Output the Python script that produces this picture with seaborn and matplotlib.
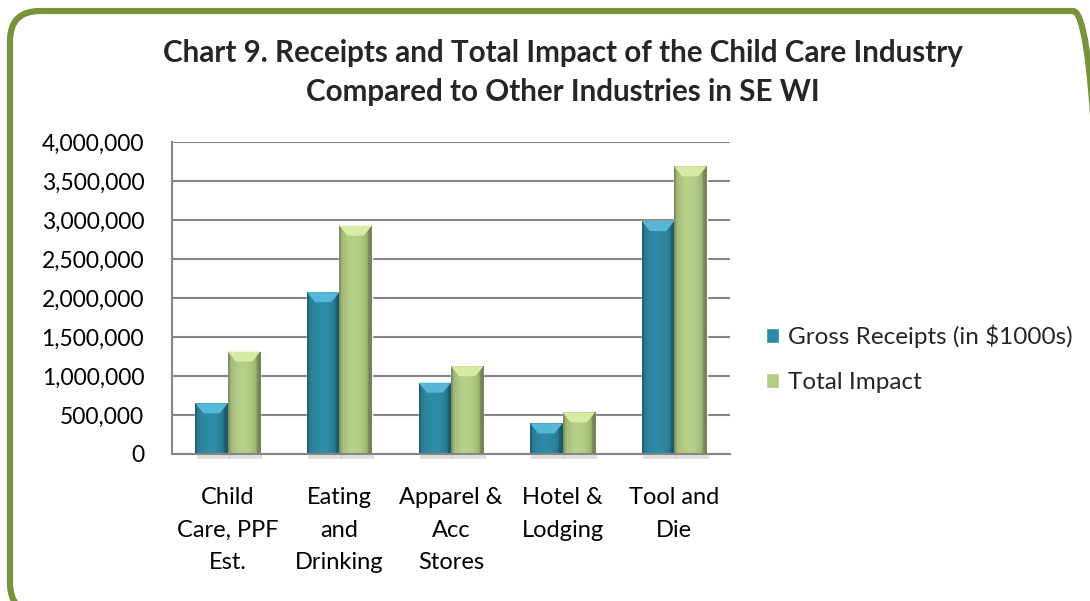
import numpy as np
import pandas as pd
import matplotlib
matplotlib.use("Agg")
import matplotlib.pyplot as plt
import seaborn as sns
from matplotlib.patches import FancyBboxPatch, Polygon
from matplotlib.colors import to_rgb

categories = ["Child\nCare, PPF\nEst.", "Eating\nand\nDrinking", "Apparel &\nAcc\nStores",
              "Hotel &\nLodging", "Tool and\nDie"]
gross_receipts = [650000, 2075000, 915000, 393000, 2986000]
total_impact = [1313000, 2927000, 1125000, 534000, 3688000]
series_names = ["Gross Receipts (in $1000s)", "Total Impact"]
y_ticks = [0, 500000, 1000000, 1500000, 2000000, 2500000, 3000000, 3500000, 4000000]

df = pd.DataFrame({
    "Category": categories * 2,
    "Series": [series_names[0]] * len(categories) + [series_names[1]] * len(categories),
    "Value": gross_receipts + total_impact,
})

sns.set_theme(style="white")
plt.rcParams['font.family'] = ['Lato', 'DejaVu Sans']

W, H = 1090, 601
fig = plt.figure(figsize=(W / 100, H / 100), dpi=100)
ax = fig.add_axes([172 / W, 1 - 454 / H, (730 - 172) / W, (454 - 142) / H])

colors = {series_names[0]: "#2E89A3", series_names[1]: "#B3CB85"}
cap_colors = {series_names[0]: "#55B8D6", series_names[1]: "#D8EBA6"}
sns.barplot(data=df, x="Category", y="Value", hue="Series", palette=colors,
            width=0.58, ax=ax, legend=True, saturation=1)

ax.set_ylim(0, 4000000)
ax.set_xlim(-0.5, len(categories) - 0.5)
ax.set_yticks(y_ticks)
ax.set_yticklabels([f"{v:,}" for v in y_ticks])
ax.set_xlabel("")
ax.set_ylabel("")
ax.yaxis.grid(True, color="#868686", linewidth=1.5)
ax.set_axisbelow(True)
for s in ["top", "right"]:
    ax.spines[s].set_visible(False)
for s in ["left", "bottom"]:
    ax.spines[s].set_color("#868686")
    ax.spines[s].set_linewidth(1.5)
ax.tick_params(axis="y", length=0, pad=20, labelsize=16.5, colors="black")
ax.tick_params(axis="x", length=0, pad=24, labelsize=17, colors="black")
for lab in ax.get_xticklabels():
    lab.set_linespacing(1.66)
    lab.set_verticalalignment("top")

# gradient shading on bars
def shade(base):
    r = np.array(to_rgb(base))
    xs = np.linspace(0, 1, 64)
    f = 0.80 + 0.22 * np.sin(np.pi * np.clip(xs * 1.1, 0, 1)) ** 0.6
    f = np.where(xs > 0.88, f * 0.82, f)
    f = np.where(xs < 0.05, f * 0.85, f)
    cols = np.clip(r[None, :] * f[:, None], 0, 1)
    return cols[None, :, :]

px_per_unit_y = 312 / 4000000
px_per_unit_x = 558 / 5
cap_h = 10 / px_per_unit_y
inset = 8 / px_per_unit_x
bar_patches = [p for p in ax.patches if p.get_height() > 0]
n = len(categories)
for i, p in enumerate(bar_patches):
    fc = p.get_facecolor()
    x0, y0 = p.get_x(), p.get_y()
    w, h = p.get_width(), p.get_height()
    # soft shadow under the bar
    ax.add_patch(Polygon([[x0 + 0.01, y0], [x0 + w + 0.02, y0],
                          [x0 + w + 0.02, y0 - 5 / px_per_unit_y],
                          [x0 + 0.01, y0 - 5 / px_per_unit_y]], closed=True,
                         facecolor="#000000", alpha=0.12, edgecolor="none",
                         zorder=1, clip_on=False))
    im = ax.imshow(shade(fc[:3]), extent=[x0, x0 + w, y0, y0 + h], aspect="auto",
                   zorder=p.get_zorder() + 0.1, interpolation="bicubic")
    im.set_clip_path(p)
    series = series_names[0] if i < n else series_names[1]
    top = y0 + h
    ax.add_patch(Polygon([[x0, top], [x0 + w, top], [x0 + w - inset, top - cap_h],
                          [x0 + inset, top - cap_h]], closed=True,
                         facecolor=cap_colors[series], edgecolor="none",
                         zorder=p.get_zorder() + 0.2))

leg = ax.legend(loc="center left", bbox_to_anchor=((766 - 172) / (730 - 172), (454 - 359) / 312),
                frameon=False, fontsize=17.5, handlelength=0.55, handleheight=0.55,
                handletextpad=0.35, labelspacing=1.0, borderaxespad=0, borderpad=0)

fig.text(563 / W, 1 - 62 / H, "Chart 9. Receipts and Total Impact of the Child Care Industry",
         ha="center", va="baseline", fontsize=21.3, fontweight="bold")
fig.text(563 / W, 1 - 101 / H, "Compared to Other Industries in SE WI",
         ha="center", va="baseline", fontsize=21.3, fontweight="bold")

# rounded border in pixel coordinates (y measured upward)
bax = fig.add_axes([0, 0, 1, 1], zorder=-1)
bax.set_xlim(0, W)
bax.set_ylim(0, H)
bax.axis("off")
bax.patch.set_alpha(0)
bax.add_patch(FancyBboxPatch((10, H - 613), 1103 - 10, 613 - 11,
                             boxstyle="round,pad=0,rounding_size=30",
                             fill=False, edgecolor="#77933C", linewidth=4.5,
                             clip_on=False))

fig.savefig("out.png", dpi=100)
